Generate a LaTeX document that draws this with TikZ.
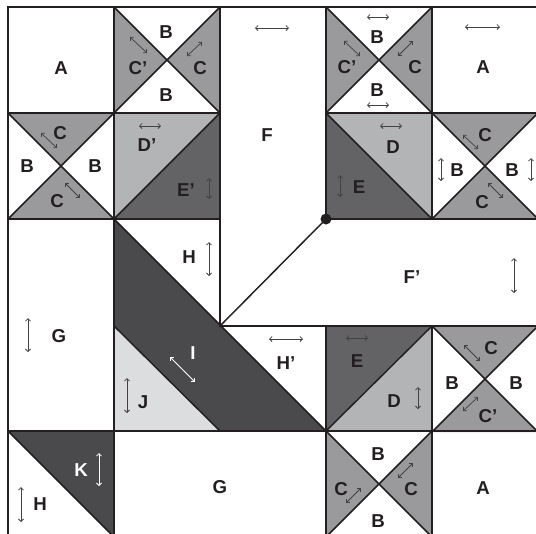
\documentclass[tikz,border=0pt]{standalone}
\usepackage{fontspec}
\setmainfont{Liberation Sans}
\usetikzlibrary{arrows.meta}
\definecolor{cgray}{HTML}{9A9A9C}
\definecolor{dlight}{HTML}{B3B4B6}
\definecolor{edark}{HTML}{636365}
\definecolor{idark}{HTML}{4A4A4C}
\definecolor{jlight}{HTML}{DCDDDF}
\definecolor{ink}{HTML}{231F20}
\tikzset{
  lbl/.style={font=\fontsize{14}{16}\selectfont\bfseries, text=ink, inner sep=0pt},
  wlbl/.style={lbl, text=white},
  dbl/.style={{Straight Barb[length=1.9pt,width=3.8pt]}-{Straight Barb[length=1.9pt,width=3.8pt]}, line width=0.55pt, draw=ink!85},
  wdbl/.style={dbl, draw=white},
  grid/.style={line width=1.5pt, draw=ink, line cap=rect},
  diag/.style={line width=1.1pt, draw=ink},
}
\begin{document}
\begin{tikzpicture}[x=0.75pt,y=-0.75pt]
\useasboundingbox (0,0) rectangle (536,533);
\clip (0,0) rectangle (536,533);
\fill[white] (0,0) rectangle (536,533);
% hourglass, gray sides (cells (1,0), (3,0), (3,4))
\foreach \x/\y in {114/7, 326/7, 326/431}{
  \fill[cgray] (\x,\y) -- (\x+53,\y+53) -- (\x,\y+106) -- cycle;
  \fill[cgray] (\x+106,\y) -- (\x+53,\y+53) -- (\x+106,\y+106) -- cycle;
}
% hourglass, gray top/bottom (cells (0,1), (4,1), (4,3))
\foreach \x/\y in {8/113, 432/113, 432/326}{
  \fill[cgray] (\x,\y) -- (\x+53,\y+53) -- (\x+106,\y) -- cycle;
  \fill[cgray] (\x,\y+106) -- (\x+53,\y+53) -- (\x+106,\y+106) -- cycle;
}
% D'/E'
\fill[dlight] (114,113) -- (220,113) -- (114,219) -- cycle;
\fill[edark] (220,113) -- (220,219) -- (114,219) -- cycle;
% D/E row 1
\fill[dlight] (326,113) -- (432,113) -- (432,219) -- cycle;
\fill[edark] (326,113) -- (326,219) -- (432,219) -- cycle;
% I and J
\fill[idark] (114,219) -- (326,431) -- (220,431) -- (114,326) -- cycle;
\fill[jlight] (114,326) -- (114,431) -- (220,431) -- cycle;
% E/D row 3
\fill[edark] (326,326) -- (432,326) -- (326,431) -- cycle;
\fill[dlight] (432,326) -- (432,431) -- (326,431) -- cycle;
% K
\fill[idark] (8,431) -- (114,431) -- (114,537) -- cycle;
% diagonals
\foreach \x/\y in {114/7, 326/7, 326/431, 8/113, 432/113, 432/326}{
  \draw[diag] (\x,\y) -- (\x+106,\y+106);
  \draw[diag] (\x+106,\y) -- (\x,\y+106);
}
\draw[diag] (114,219) -- (220,113);
\draw[diag] (326,113) -- (432,219);
\draw[diag] (220,326) -- (326,219);
\draw[diag] (114,219) -- (326,431);
\draw[diag] (114,326) -- (220,431);
\draw[diag] (326,431) -- (432,326);
\draw[diag] (8,431) -- (114,537);
% grid lines
\draw[grid] (8,7) rectangle (538,537);
\draw[grid] (114,7) -- (114,537);
\draw[grid] (220,7) -- (220,326);
\draw[grid] (326,7) -- (326,219);
\draw[grid] (326,326) -- (326,537);
\draw[grid] (432,7) -- (432,219);
\draw[grid] (432,326) -- (432,537);
\draw[grid] (8,113) -- (220,113);
\draw[grid] (326,113) -- (538,113);
\draw[grid] (8,219) -- (220,219);
\draw[grid] (326,219) -- (538,219);
\draw[grid] (220,326) -- (538,326);
\draw[grid] (8,431) -- (538,431);
% dot
\fill[ink] (326,219) circle (5.5);
% labels
\node[lbl] (a1) at (61,68) {A};
\node[lbl] (b1) at (166,32) {B};
\node[lbl] (c1) at (138,68) {C’};
\node[lbl] (c2) at (200,68) {C};
\node[lbl] (b2) at (166,95) {B};
\node[lbl] (f) at (267,135) {F};
\node[lbl] (b3) at (377,37) {B};
\node[lbl] (c3) at (347,67) {C’};
\node[lbl] (c4) at (415,67) {C};
\node[lbl] (b4) at (377,90) {B};
\node[lbl] (a2) at (483,67) {A};
\node[lbl] (c5) at (60,133) {C};
\node[lbl] (b5) at (27,166) {B};
\node[lbl] (b6) at (95,166) {B};
\node[lbl] (c6) at (57,201) {C};
\node[lbl] (d1) at (147,145) {D’};
\node[lbl] (e1) at (186,190) {E’};
\node[lbl] (d2) at (393,147) {D};
\node[lbl] (e2) at (359,187) {E};
\node[lbl] (c7) at (485,135) {C};
\node[lbl] (b7) at (457,170) {B};
\node[lbl] (b8) at (512,170) {B};
\node[lbl] (c8) at (482,202) {C};
\node[lbl] (g1) at (59,336) {G};
\node[lbl] (h1) at (189,257) {H};
\node[wlbl] (i) at (193,353) {I};
\node[lbl] (j) at (143,402) {J};
\node[lbl] (f2) at (412,277) {F’};
\node[lbl] (h2) at (286,363) {H’};
\node[lbl] (e3) at (357,361) {E};
\node[lbl] (d3) at (394,401) {D};
\node[lbl] (c9) at (491,348) {C};
\node[lbl] (b9) at (452,383) {B};
\node[lbl] (b10) at (516,383) {B};
\node[lbl] (c10) at (488,416) {C’};
\node[wlbl] (k) at (81,470) {K};
\node[lbl] (h3) at (40,504) {H};
\node[lbl] (g2) at (220,487) {G};
\node[lbl] (b11) at (378,454) {B};
\node[lbl] (c11) at (341,489) {C};
\node[lbl] (c12) at (411,489) {C};
\node[lbl] (b12) at (378,521) {B};
\node[lbl] (a3) at (483,488) {A};
% grain arrows
\draw[dbl] (130,37) -- (147,53);
\draw[dbl] (202,42) -- (187,56);
\draw[dbl] (255,28) -- (289,28);
\draw[dbl] (367,17) -- (389,17);
\draw[dbl] (344,41) -- (360,56);
\draw[dbl] (413,41) -- (398,56);
\draw[dbl] (367,105) -- (389,105);
\draw[dbl] (465,27) -- (500,27);
\draw[dbl] (41,133) -- (57,148);
\draw[dbl] (65,183) -- (80,198);
\draw[dbl] (139,126) -- (161,126);
\draw[dbl] (209,178) -- (209,199);
\draw[dbl] (380,126) -- (402,126);
\draw[dbl] (340,175) -- (340,197);
\draw[dbl] (463,135) -- (478,149);
\draw[dbl] (441,158) -- (441,181);
\draw[dbl] (531,158) -- (531,181);
\draw[dbl] (488,183) -- (503,198);
\draw[dbl] (28,318) -- (28,352);
\draw[dbl] (209,242) -- (209,276);
\draw[wdbl] (170,357) -- (195,382);
\draw[dbl] (127,378) -- (127,413);
\draw[dbl] (514,258) -- (514,293);
\draw[dbl] (269,339) -- (303,339);
\draw[dbl] (346,338) -- (368,338);
\draw[dbl] (418,387) -- (418,409);
\draw[dbl] (464,345) -- (480,361);
\draw[dbl] (478,397) -- (463,411);
\draw[wdbl] (99,453) -- (99,486);
\draw[dbl] (21,487) -- (21,522);
\draw[dbl] (361,488) -- (346,503);
\draw[dbl] (413,463) -- (398,478);
\end{tikzpicture}
\end{document}
